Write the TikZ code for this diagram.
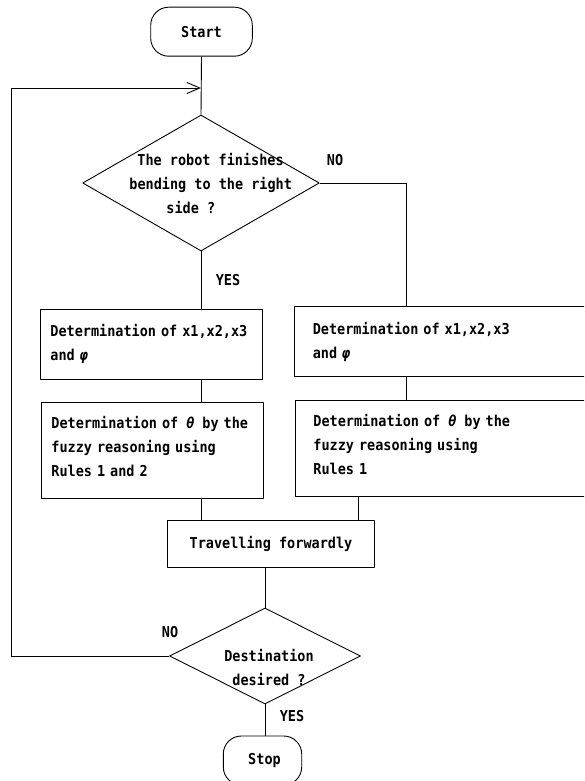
\documentclass[tikz,border=0pt]{standalone}
\usepackage{fontspec}
\newfontfamily\flowfont{DejaVu Sans Mono}[FakeStretch=0.9]
\usetikzlibrary{shapes.geometric, arrows.meta}

\newcommand{\thetasym}{\hspace{3pt}{\itshape θ}\hspace{3pt}}
\newcommand{\phisym}{{\itshape φ}}

\tikzset{
  txt/.style={font=\flowfont\bfseries\fontsize{15}{24}\selectfont},
  terminal/.style={draw, rectangle, rounded corners=18pt, minimum height=49, inner sep=0pt, txt},
  procbox/.style={draw, rectangle, anchor=west, align=left, inner ysep=0pt, txt},
  decision/.style={draw, diamond, inner sep=0pt},
  tag/.style={inner sep=0pt, txt},
  loopback/.style={-{Straight Barb[length=13pt,width=11pt,line width=0.9pt]}}
}

\begin{document}
\begin{tikzpicture}[x=1pt, y=-1pt, line width=0.9pt, line join=round]
  \useasboundingbox (0,0) rectangle (584,781);
  \clip (0,0) rectangle (584,781);

  % column positions used by the connectors
  \coordinate (loopx) at (11,0);
  \coordinate (rcol) at (406,0);
  \coordinate (jcol) at (358,0);
  \coordinate (entry) at (201,88);

  % terminals
  \node[terminal, minimum width=101.6] (start) at (201.5,31.7) {Start};
  \node[terminal, minimum width=78.4] (stop) at (262.5,760.5) {\hspace*{4pt}Stop};

  % first decision
  \node[decision, minimum width=236.7, minimum height=136] (d1) at (201,183) {};
  \node[tag, align=left, anchor=west] (d1text) at (129,184)
    {\hspace*{8pt}The robot finishes\\bending to the right\\\hspace*{37pt}side ?};

  % left branch
  \node[procbox, minimum width=222, minimum height=70, text width=202, inner xsep=10pt]
    (l1) at (40,344) {\mbox{Determination of x1,x2,x3}\\and \phisym};
  \node[procbox, minimum width=222.6, minimum height=95.6, text width=202, inner xsep=10pt]
    (l2) at (40.7,450.5)
    {\mbox{Determination of \thetasym\ by the}\\fuzzy reasoning using\\Rules 1 and 2\rule[-9pt]{0pt}{9pt}};

  % right branch (boxes run past the right edge)
  \node[procbox, minimum width=306, minimum height=70, text width=270, inner xsep=18pt]
    (r1) at (294.3,341.7) {Determination of x1,x2,x3\\and \phisym};
  \node[procbox, minimum width=306, minimum height=96, text width=270, inner xsep=18pt]
    (r2) at (295,448.7)
    {Determination of \thetasym\ by the\\fuzzy reasoning using\\Rules 1\rule[-9pt]{0pt}{9pt}};

  % travelling step
  \node[draw, rectangle, minimum width=206.6, minimum height=47.3, inner sep=0pt, txt]
    (travel) at (271,543.7) {Travelling forwardly};

  % second decision
  \node[decision, minimum width=191, minimum height=96] (d2) at (265,656) {};
  \node[tag, align=center] (d2text) at (269,667) {Destination\\desired ?};

  % branch labels
  \node[tag] (no1) at (335,160) {NO};
  \node[tag] (yes1) at (228,280) {YES};
  \node[tag] (no2) at (170,632) {NO};
  \node[tag] (yes2) at (292,716) {YES};

  % connectors
  \draw (start.south) -- (d1.north);
  \draw (d1.south) -- (l1.north -| d1.south);
  \draw (l1.south -| d1.south) -- (l2.north -| d1.south);
  \draw (l2.south -| d1.south) -- (travel.north -| d1.south);
  \draw (d1.east) -| (r1.north -| rcol);
  \draw (r1.south -| rcol) -- (r2.north -| rcol);
  \draw (r2.south -| jcol) -- (travel.north -| jcol);
  \draw (travel.south -| d2.north) -- (d2.north);
  \draw (d2.south) -- (stop.north -| d2.south);
  \draw[loopback] (d2.west) -| (loopx |- entry) -- (entry);
\end{tikzpicture}
\end{document}
